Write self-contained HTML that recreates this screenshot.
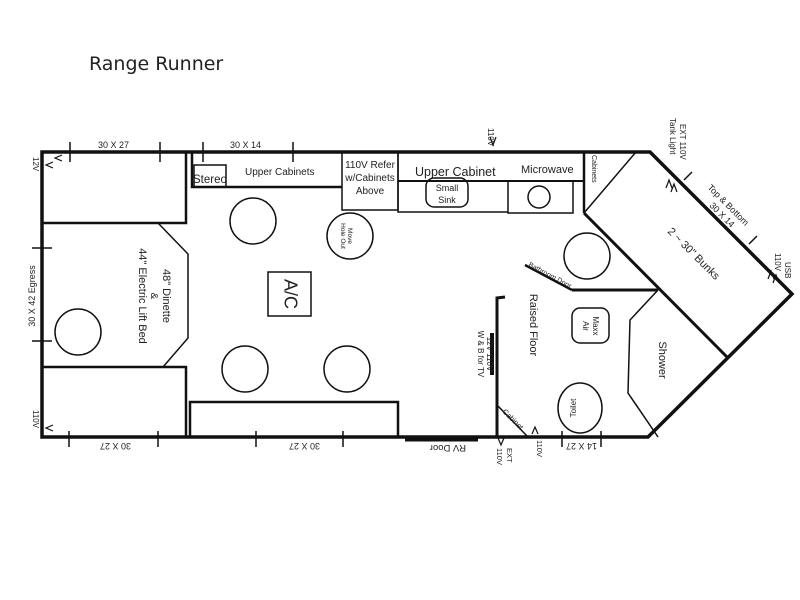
<!DOCTYPE html>
<html><head><style>
html,body{margin:0;padding:0;background:#fff;}
svg{display:block}
text{font-family:"Liberation Sans","DejaVu Sans",sans-serif;fill:#222}
</style></head><body>
<svg width="800" height="600" viewBox="0 0 800 600" xmlns="http://www.w3.org/2000/svg">
<rect width="800" height="600" fill="#fff"/>
<text x="89" y="70" font-size="19" style="font-family:'DejaVu Sans',sans-serif">Range Runner</text>
<g fill="none" stroke="#111">
<path d="M42,152 L650,152 L792,294 L648,437 L42,437 Z" stroke-width="3.5"/>
<path d="M42,223 L186,223 L186,152" stroke-width="2.5"/>
<path d="M42,367 L186,367 L186,437" stroke-width="2.5"/>
<path d="M158,223 L188,254 L188,338 L163,367" stroke-width="1.5"/>
<path d="M192,152 L192,187 L342,187" stroke-width="2.5"/>
<rect x="194" y="165" width="32" height="22" stroke-width="1.5"/>
<rect x="342" y="152" width="56" height="58" stroke-width="1.5"/>
<path d="M398,152 L398,212 L508,212" stroke-width="1.5"/>
<path d="M398,181 L584,181" stroke-width="2"/>
<rect x="426" y="178" width="42" height="29" rx="8" stroke-width="1.5"/>
<path d="M508,181 L508,213 L573,213 L573,181" stroke-width="1.5"/>
<circle cx="539" cy="197" r="11" stroke-width="1.5"/>
<path d="M584,152 L584,213" stroke-width="2.5"/>
<path d="M636,152 L584,213" stroke-width="1.5"/>
<path d="M584,213 L727,357" stroke-width="3"/>
<path d="M572,290 L658,290" stroke-width="3"/>
<path d="M525,265 L572,290" stroke-width="2.5"/>
<circle cx="587" cy="256" r="23" stroke-width="1.5"/>
<path d="M658,290 L630,320 L628,393 L658,437" stroke-width="1.5"/>
<path d="M505,297 L497,298 L497,437" stroke-width="3"/>
<path d="M492,333 L492,375" stroke-width="4"/>
<path d="M497,405 L528,437" stroke-width="1.5"/>
<rect x="572" y="308" width="37" height="35" rx="8" stroke-width="1.5"/>
<ellipse cx="580" cy="408" rx="22" ry="25" stroke-width="1.5"/>
<circle cx="253" cy="221" r="23" stroke-width="1.5"/>
<circle cx="245" cy="369" r="23" stroke-width="1.5"/>
<circle cx="347" cy="369" r="23" stroke-width="1.5"/>
<circle cx="350" cy="236" r="23" stroke-width="1.5"/>
<circle cx="78" cy="332" r="23" stroke-width="1.5"/>
<rect x="268" y="272" width="43" height="44" stroke-width="1.5"/>
<path d="M190,437 L190,402 L398,402 L398,437" stroke-width="2.5"/>
<path d="M70,142 V162 M160,142 V162 M203,142 V162 M293,142 V162 M69,431 V447 M158,431 V447 M256,431 V447 M343,431 V447 M562,431 V447 M601,431 V447 M32,248 H52 M32,341 H52" stroke-width="1.5"/>
<path d="M684,180 L692,172 M749,244 L757,236" stroke-width="1.5"/>
<path d="M405,440 L478,440" stroke-width="3"/>
<path d="M62,155 L55,158 L62,161 M53,162 L46,165 L53,168 M53,425 L46,428 L53,431 M490,137 L493,145 L496,137 M498,438 L501,445 L504,438 M532,434 L535,427 L538,434 M666,188 L669,180 L672,188 M671,192 L674,184 L677,192 M768,279 L771,271 L774,279 M773,283 L776,275 L779,283" stroke-width="1.2"/>
</g>
<g font-size="9">
<text x="98" y="148">30 X 27</text>
<text x="230" y="148">30 X 14</text>
<text x="245" y="175" font-size="10">Upper Cabinets</text>
<text x="193" y="183" font-size="11.5">Stereo</text>
<text x="370" y="168" font-size="10" text-anchor="middle">110V Refer</text>
<text x="370" y="181" font-size="10" text-anchor="middle">w/Cabinets</text>
<text x="370" y="194" font-size="10" text-anchor="middle">Above</text>
<text x="415" y="176" font-size="12.5">Upper Cabinet</text>
<text x="521" y="173" font-size="11">Microwave</text>
<text x="447" y="191" font-size="9" text-anchor="middle">Small</text>
<text x="447" y="203" font-size="9" text-anchor="middle">Sink</text>
<text transform="translate(592,155) rotate(90)" font-size="7">Cabinets</text>
<text transform="translate(488,128) rotate(90)" font-size="8">110V</text>
<text transform="translate(680,124) rotate(90)" font-size="8">EXT 110V</text>
<text transform="translate(670,118) rotate(90)" font-size="8">Tank Light</text>
<text transform="translate(707,188) rotate(45)" font-size="9">Top &amp; Bottom</text>
<text transform="translate(709,206) rotate(45)" font-size="9">30 X 14</text>
<text transform="translate(667,232) rotate(45)" font-size="11">2 ~ 30" Bunks</text>
<text transform="translate(775,253) rotate(90)" font-size="8">110V</text>
<text transform="translate(785,262) rotate(90)" font-size="8">USB</text>
<text transform="translate(528,266) rotate(28)" font-size="7">Bathroom Door</text>
<text transform="translate(530,325) rotate(90)" font-size="11" text-anchor="middle">Raised Floor</text>
<text transform="translate(593,326) rotate(90)" font-size="8" text-anchor="middle">Maxx</text>
<text transform="translate(583,326) rotate(90)" font-size="8" text-anchor="middle">Air</text>
<text transform="translate(659,360) rotate(90)" font-size="11" text-anchor="middle">Shower</text>
<text transform="translate(576,408) rotate(-90)" font-size="8" text-anchor="middle">Toilet</text>
<text transform="translate(487,354) rotate(90)" font-size="8" text-anchor="middle">12V 110V</text>
<text transform="translate(478,354) rotate(90)" font-size="8" text-anchor="middle">W &amp; B for TV</text>
<text transform="translate(502,412) rotate(45)" font-size="7.5">Cabinet</text>
<text transform="translate(466,445) rotate(180)" font-size="9.5">RV Door</text>
<text transform="translate(507,448) rotate(90)" font-size="7.5">EXT</text>
<text transform="translate(497,448) rotate(90)" font-size="7.5">110V</text>
<text transform="translate(537,440) rotate(90)" font-size="7.5">110V</text>
<text transform="translate(597,443) rotate(180)" font-size="9">14 X 27</text>
<text transform="translate(131,443) rotate(180)" font-size="9">30 X 27</text>
<text transform="translate(320,443) rotate(180)" font-size="9">30 X 27</text>
<text transform="translate(289,294) rotate(90)" font-size="18" text-anchor="middle" dominant-baseline="middle">A/C</text>
<text transform="translate(348,236) rotate(90)" font-size="6.5" text-anchor="middle">Move</text>
<text transform="translate(341,236) rotate(90)" font-size="6.5" text-anchor="middle">Hole Out</text>
<text transform="translate(163,296) rotate(90)" font-size="11" text-anchor="middle">48" Dinette</text>
<text transform="translate(151,296) rotate(90)" font-size="10" text-anchor="middle">&amp;</text>
<text transform="translate(139,296) rotate(90)" font-size="11" text-anchor="middle">44" Electric Lift Bed</text>
<text transform="translate(35,296) rotate(-90)" font-size="9" text-anchor="middle">30 X 42 Egress</text>
<text transform="translate(33,157) rotate(90)" font-size="8">12V</text>
<text transform="translate(33,410) rotate(90)" font-size="8">110V</text>
</g>
</svg>
</body></html>
